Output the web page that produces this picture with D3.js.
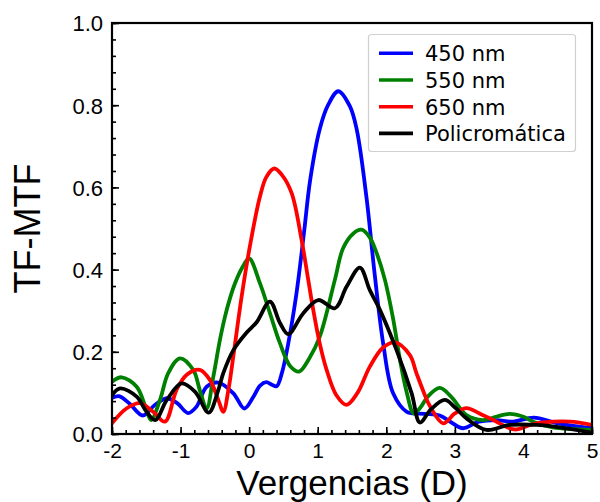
<!DOCTYPE html>
<html>
<head>
<meta charset="utf-8">
<script src="https://cdn.jsdelivr.net/npm/d3@7/dist/d3.min.js"></script>
<style>
  body { margin: 0; background: #fff; }
  svg { display: block; }
</style>
</head>
<body>
<svg id="chart" width="600" height="502"></svg>
<script>
// Axis ticks
const xTicks = [-2, -1, 0, 1, 2, 3, 4, 5];
const yTicks = [0, 0.2, 0.4, 0.6, 0.8, 1.0];

// Series labels and colours
const seriesNames = ["450 nm", "550 nm", "650 nm", "Policromática"];
const seriesColors = ["#0000ff", "#008000", "#ff0000", "#000000"];

// 450 nm: vergence (D) and TF-MTF
const verg450 = [-2, -1.9, -1.75, -1.55, -1.38, -1.2, -1.05, -0.89, -0.77, -0.62, -0.45, -0.23, -0.07, 0.06, 0.16, 0.25, 0.33, 0.4, 0.48, 0.57, 0.69, 0.8, 0.89, 1.03, 1.15, 1.3, 1.47, 1.57, 1.71, 1.83, 1.955, 2.1, 2.3, 2.55, 2.78, 2.95, 3.12, 3.35, 3.6, 3.85, 4.15, 4.5, 5];
const mtf450 = [0.088, 0.092, 0.075, 0.045, 0.07, 0.087, 0.075, 0.051, 0.066, 0.115, 0.125, 0.099, 0.062, 0.09, 0.118, 0.126, 0.12, 0.116, 0.15, 0.22, 0.342, 0.49, 0.618, 0.742, 0.8, 0.834, 0.797, 0.74, 0.577, 0.39, 0.22, 0.099, 0.054, 0.049, 0.045, 0.028, 0.014, 0.03, 0.034, 0.03, 0.04, 0.026, 0.014];

// 550 nm
const verg550 = [-2, -1.86, -1.64, -1.5, -1.43, -1.3, -1.18, -1.01, -0.815, -0.72, -0.62, -0.523, -0.426, -0.353, -0.28, -0.21, -0.1, 0.0, 0.157, 0.303, 0.449, 0.6, 0.73, 0.88, 1.03, 1.25, 1.37, 1.52, 1.64, 1.76, 1.86, 1.98, 2.1, 2.2, 2.3, 2.4, 2.5, 2.6, 2.78, 2.95, 3.17, 3.41, 3.6, 3.8, 4.0, 4.14, 4.43, 5];
const mtf550 = [0.127, 0.138, 0.115, 0.06, 0.034, 0.083, 0.148, 0.184, 0.156, 0.107, 0.062, 0.139, 0.229, 0.285, 0.33, 0.365, 0.405, 0.427, 0.367, 0.294, 0.221, 0.165, 0.152, 0.185, 0.237, 0.375, 0.452, 0.488, 0.497, 0.478, 0.44, 0.375, 0.28, 0.18, 0.1, 0.05, 0.065, 0.09, 0.112, 0.09, 0.046, 0.034, 0.042, 0.049, 0.042, 0.03, 0.016, 0.01];

// 650 nm
const verg650 = [-2, -1.79, -1.59, -1.4, -1.227, -1.06, -0.91, -0.72, -0.57, -0.45, -0.377, -0.3, -0.23, -0.11, 0.01, 0.157, 0.25, 0.366, 0.48, 0.62, 0.765, 0.862, 0.935, 1.03, 1.13, 1.27, 1.42, 1.58, 1.76, 1.95, 2.125, 2.344, 2.44, 2.55, 2.636, 2.83, 3.0, 3.17, 3.36, 3.56, 3.87, 4.1, 4.29, 4.68, 5];
const mtf650 = [0.026, 0.062, 0.075, 0.054, 0.03, 0.107, 0.144, 0.156, 0.131, 0.083, 0.054, 0.11, 0.19, 0.334, 0.456, 0.577, 0.625, 0.646, 0.63, 0.586, 0.472, 0.375, 0.302, 0.22, 0.156, 0.095, 0.071, 0.1, 0.164, 0.21, 0.223, 0.192, 0.148, 0.1, 0.068, 0.026, 0.05, 0.063, 0.05, 0.034, 0.011, 0.022, 0.028, 0.03, 0.022];

// Polychromatic
const vergPoli = [-2, -1.88, -1.64, -1.5, -1.37, -1.2, -0.985, -0.79, -0.59, -0.45, -0.377, -0.23, -0.036, 0.109, 0.303, 0.45, 0.57, 0.79, 1.008, 1.25, 1.42, 1.615, 1.76, 1.907, 2.15, 2.37, 2.49, 2.65, 2.854, 3.0, 3.17, 3.46, 3.8, 4.19, 4.53, 5];
const mtfPoli = [0.095, 0.111, 0.091, 0.055, 0.034, 0.083, 0.123, 0.103, 0.052, 0.107, 0.148, 0.204, 0.247, 0.272, 0.322, 0.27, 0.243, 0.294, 0.326, 0.306, 0.358, 0.405, 0.35, 0.302, 0.204, 0.099, 0.028, 0.06, 0.083, 0.065, 0.038, 0.01, 0.022, 0.022, 0.016, 0.003];

const seriesX = [verg450, verg550, verg650, vergPoli];
const seriesY = [mtf450, mtf550, mtf650, mtfPoli];

const svg = d3.select("#chart");
const W = 600, H = 502;
const plot = { left: 112, right: 592, top: 23, bottom: 434 };

const x = d3.scaleLinear().domain([-2, 5]).range([plot.left, plot.right]);
const y = d3.scaleLinear().domain([0, 1]).range([plot.bottom, plot.top]);

svg.append("rect").attr("width", W).attr("height", H).attr("fill", "#fff");

// Clip region for the curves
svg.append("defs").append("clipPath").attr("id", "plotClip")
  .append("rect")
  .attr("x", plot.left).attr("y", plot.top)
  .attr("width", plot.right - plot.left).attr("height", plot.bottom - plot.top);

// Curves
const line = d3.line()
  .x(d => x(d[0]))
  .y(d => y(d[1]))
  .curve(d3.curveCatmullRom.alpha(0.5));

const curves = svg.append("g").attr("clip-path", "url(#plotClip)");
seriesX.forEach((xs, i) => {
  const pts = xs.map((v, j) => [v, seriesY[i][j]]);
  curves.append("path")
    .datum(pts)
    .attr("d", line)
    .attr("fill", "none")
    .attr("stroke", seriesColors[i])
    .attr("stroke-width", 3.8)
    .attr("stroke-linejoin", "round")
    .attr("stroke-linecap", "round");
});

// Inward ticks on the left and bottom axes
const tickFont = "'Liberation Sans', Arial, sans-serif";
const xAxis = d3.axisBottom(x).tickValues(xTicks).tickSizeInner(-7).tickSizeOuter(0)
  .tickFormat(d3.format("d"));
const xMinor = d3.axisBottom(x).tickValues(d3.range(-2, 5.001, 0.2)).tickSizeInner(-4).tickSizeOuter(0)
  .tickFormat("");
const yAxis = d3.axisLeft(y).tickValues(yTicks).tickSizeInner(-7).tickSizeOuter(0)
  .tickFormat(d3.format(".1f"));
const yMinor = d3.axisLeft(y).tickValues(d3.range(0, 1.001, 0.04)).tickSizeInner(-4).tickSizeOuter(0)
  .tickFormat("");

function styleAxis(g) {
  g.select(".domain").remove();
  g.selectAll(".tick line").attr("stroke", "#000").attr("stroke-width", 1.6);
  g.selectAll(".tick text")
    .attr("fill", "#000")
    .attr("font-family", tickFont)
    .attr("font-size", 22);
}

svg.append("g").attr("transform", `translate(0,${plot.bottom})`).call(xMinor).call(styleAxis);
svg.append("g").attr("transform", `translate(0,${plot.bottom})`).call(xAxis).call(styleAxis)
  .selectAll(".tick text").attr("font-size", 21).attr("y", 24).attr("dy", 0)
  .text(d => d < 0 ? "-" + Math.abs(d) : d);
svg.append("g").attr("transform", `translate(${plot.left},0)`).call(yMinor).call(styleAxis);
svg.append("g").attr("transform", `translate(${plot.left},0)`).call(yAxis).call(styleAxis)
  .selectAll(".tick text").attr("x", -9).attr("dy", "0.36em");

// Frame
svg.append("rect")
  .attr("x", plot.left).attr("y", plot.top)
  .attr("width", plot.right - plot.left).attr("height", plot.bottom - plot.top)
  .attr("fill", "none").attr("stroke", "#000").attr("stroke-width", 2.2);

// Axis titles
svg.append("text")
  .attr("x", (plot.left + plot.right) / 2).attr("y", 494.5)
  .attr("text-anchor", "middle")
  .attr("font-family", tickFont).attr("font-size", 35)
  .text("Vergencias (D)");

svg.append("text")
  .attr("transform", `translate(40,${(plot.top + plot.bottom) / 2}) rotate(-90)`)
  .attr("text-anchor", "middle")
  .attr("font-family", tickFont).attr("font-size", 36)
  .text("TF-MTF");

// Legend
const legend = svg.append("g");
legend.append("rect")
  .attr("x", 368.5).attr("y", 34.5).attr("width", 207).attr("height", 117)
  .attr("rx", 3).attr("ry", 3)
  .attr("fill", "#fff").attr("fill-opacity", 0.8)
  .attr("stroke", "#d0d0d0").attr("stroke-width", 1.2);

seriesNames.forEach((name, i) => {
  const cy = 53.3 + i * 26.7;
  legend.append("line")
    .attr("x1", 379).attr("x2", 413)
    .attr("y1", cy).attr("y2", cy)
    .attr("stroke", seriesColors[i]).attr("stroke-width", 3.6);
  legend.append("text")
    .attr("x", 425).attr("y", cy + 8)
    .attr("font-family", "'DejaVu Sans', sans-serif")
    .attr("font-size", 21)
    .attr("fill", "#000")
    .text(name);
});
</script>
</body>
</html>
